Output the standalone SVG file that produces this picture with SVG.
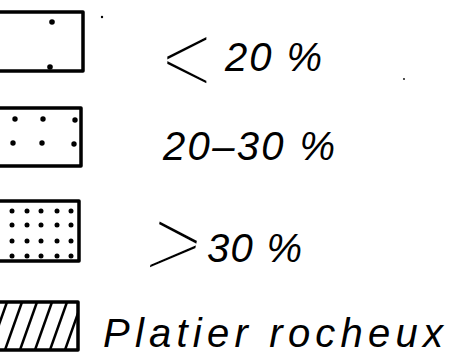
<svg xmlns="http://www.w3.org/2000/svg" width="456" height="364" viewBox="0 0 456 364">
<style>
.box{fill:none;stroke:#000;stroke-width:3.5;stroke-linejoin:round}
.dot{fill:#000}
.lbl{font-family:"Liberation Sans",Arial,sans-serif;font-style:italic;font-size:40px;fill:#000}
.sym{font-family:"Liberation Sans",Arial,sans-serif;font-size:105px;fill:#000;stroke:#fff;stroke-width:5}
.hatch{stroke:#000;stroke-width:2.5;fill:none}
</style>
<defs>
<clipPath id="c4"><rect x="-5" y="302" width="83" height="48"/></clipPath>
</defs>
<rect width="456" height="364" fill="#fff"/>
<g id="legend-lt20">
<rect class="box" x="-5" y="12" width="88" height="59"/>
<circle class="dot" cx="52" cy="22" r="2.8"/>
<circle class="dot" cx="50" cy="67" r="2.8"/>
<circle class="dot" cx="102" cy="17" r="1.2"/>
<text class="sym" transform="translate(165,95) scale(0.85,1)" x="-5" y="0">&lt;</text>
<text class="lbl" x="225" y="71" textLength="97" lengthAdjust="spacing">20 %</text>
</g>
<g id="legend-20-30">
<rect class="box" x="-5" y="108" width="86" height="58"/>
<circle class="dot" cx="15" cy="119" r="2.7"/>
<circle class="dot" cx="43" cy="119" r="2.7"/>
<circle class="dot" cx="75" cy="120" r="2.7"/>
<circle class="dot" cx="13" cy="143" r="2.7"/>
<circle class="dot" cx="42" cy="143" r="2.7"/>
<circle class="dot" cx="74" cy="144" r="2.7"/>
<text class="lbl" x="163" y="160" textLength="172" lengthAdjust="spacing">20–30 %</text>
</g>
<g id="legend-gt30">
<rect class="box" x="-5" y="201" width="84" height="60"/>
<g class="dot">
<circle cx="12" cy="211" r="2.5"/><circle cx="27" cy="211" r="2.5"/><circle cx="41" cy="211" r="2.5"/><circle cx="57" cy="211" r="2.5"/><circle cx="71" cy="211" r="2.5"/>
<circle cx="12" cy="225" r="2.5"/><circle cx="27" cy="225" r="2.5"/><circle cx="41" cy="225" r="2.5"/><circle cx="57" cy="225" r="2.5"/><circle cx="71" cy="225" r="2.5"/>
<circle cx="12" cy="241" r="2.5"/><circle cx="27" cy="241" r="2.5"/><circle cx="41" cy="241" r="2.5"/><circle cx="57" cy="241" r="2.5"/><circle cx="71" cy="241" r="2.5"/>
<circle cx="12" cy="256" r="2.5"/><circle cx="27" cy="256" r="2.5"/><circle cx="41" cy="256" r="2.5"/><circle cx="57" cy="256" r="2.5"/><circle cx="71" cy="256" r="2.5"/>
</g>
<text class="sym" transform="translate(145,279) skewX(-12) scale(0.9,1)" x="-5" y="0">&gt;</text>
<text class="lbl" x="207" y="262" textLength="95" lengthAdjust="spacing">30 %</text>
</g>
<g id="legend-platier">
<g clip-path="url(#c4)" class="hatch">
<line x1="-10" y1="350" x2="7" y2="302"/>
<line x1="5" y1="350" x2="22" y2="302"/>
<line x1="20" y1="350" x2="37" y2="302"/>
<line x1="35" y1="350" x2="52" y2="302"/>
<line x1="50" y1="350" x2="67" y2="302"/>
<line x1="65" y1="350" x2="82" y2="302"/>
</g>
<rect class="box" x="-5" y="302" width="83" height="48"/>
<text class="lbl" x="103" y="347" textLength="340" lengthAdjust="spacing">Platier rocheux</text>
</g>
<g id="connectors"/>
<circle class="dot" cx="404" cy="79" r="0.9"/>
</svg>
